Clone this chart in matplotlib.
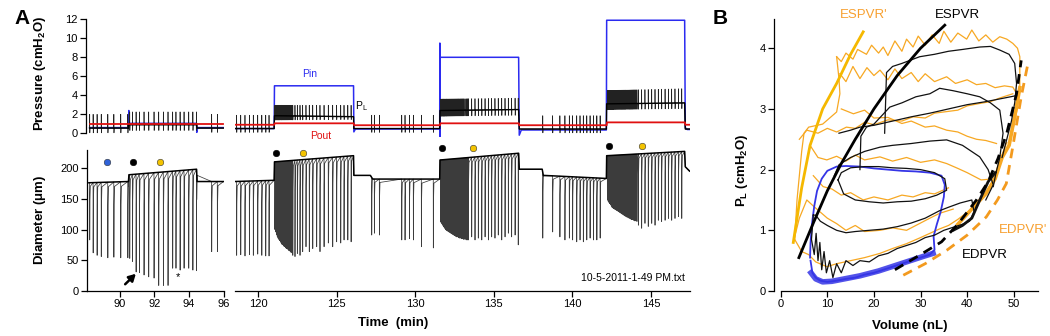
import numpy as np
import matplotlib
matplotlib.use('Agg')
import matplotlib.pyplot as plt

plt.rcParams['font.family'] = ['Liberation Sans', 'DejaVu Sans']
plt.rcParams['mathtext.fontset'] = 'custom'
plt.rcParams['mathtext.rm'] = 'Liberation Sans'
plt.rcParams['mathtext.it'] = 'Liberation Sans:italic'
plt.rcParams['mathtext.bf'] = 'Liberation Sans:bold'

# ---------------- Panel A data ----------------
# diameter baseline knots (time min, diameter um)
DL_base_t = [88.2, 90.49, 90.52, 94.44, 94.47, 96.0]
DL_base_v = [176, 178, 189, 198, 178, 178]
DR_base_t = [118.5, 121.03, 121.05, 126.08, 126.1, 127.15, 127.3, 131.56, 131.58,
             136.58, 136.62, 138.08, 138.15, 142.16, 142.18, 147.14, 147.18, 147.45]
DR_base_v = [178, 180, 210, 220, 188, 188, 182, 182, 213, 224, 198, 198, 188, 183,
             220, 227, 202, 195]

# contraction events, left block
DL_t = [88.24, 88.44, 88.67, 88.91, 89.29, 89.64, 90.04, 90.45,
        90.56, 90.72, 90.93, 91.12, 91.39, 91.66, 91.97, 92.24, 92.51, 92.78,
        93.05, 93.24, 93.48, 93.71, 93.98, 94.22, 94.43,
        95.31, 95.64]
DL_min = [83, 62, 58, 56, 54, 55, 54, 54,
          53, 48, 31, 30, 26, 23, 21, 9, 9, 9,
          37, 37, 34, 37, 37, 34, 33,
          64, 64]

# contraction events, right block
R1_t = [118.64, 118.9, 119.17, 119.45, 119.7, 119.98, 120.24, 120.49, 120.7]
R1_min = [58, 59, 57, 59, 58, 60, 58, 57, 57]
R2_t = [121.07, 121.12, 121.17, 121.22, 121.27, 121.32, 121.37, 121.42, 121.47, 121.52,
        121.58, 121.64, 121.7, 121.76, 121.82, 121.88, 121.95, 122.02, 122.09, 122.16,
        122.21, 122.35, 122.5, 122.67, 122.84, 123.05, 123.26, 123.48, 123.73, 123.94,
        124.2, 124.47, 124.75, 125.0, 125.26, 125.47, 125.71, 125.92]
R2_min = [100, 96, 92, 89, 86, 84, 82, 80, 78, 76, 75, 73, 72, 70, 69, 68, 66, 65, 63, 62,
          58, 56, 61, 58, 64, 72, 64, 69, 72, 64, 72, 78, 72, 80, 78, 83, 83, 80]
R3_t = [127.23, 127.4, 127.72, 129.14, 129.35, 129.63, 129.88, 130.39, 131.15]
R3_min = [91, 94, 91, 83, 83, 85, 83, 72, 70]
R4_t = [131.62, 131.67, 131.72, 131.77, 131.82, 131.87, 131.92, 131.97, 132.02, 132.08,
        132.14, 132.2, 132.26, 132.32, 132.38, 132.44, 132.5, 132.56, 132.62, 132.68,
        132.74, 132.8, 132.87, 132.94, 133.01, 133.08, 133.16, 133.24, 133.31,
        133.38, 133.59, 133.8, 134.01, 134.23, 134.44, 134.65, 134.86, 135.07, 135.28,
        135.5, 135.71, 135.92, 136.13, 136.35, 136.55]
R4_min = [112, 110, 108, 106, 104, 102, 100, 99, 98, 97, 96, 95, 94, 93, 92, 91, 90, 89,
          88, 88, 87, 86, 86, 85, 85, 84, 84, 83, 83,
          83, 88, 83, 86, 83, 88, 83, 88, 86, 91, 83, 88, 94, 88, 91, 75]
R5_t = [138.11, 138.74, 139.2, 139.52, 139.8, 140.01, 140.27, 140.48, 140.69, 140.91,
        141.12, 141.33, 141.55, 141.76]
R5_min = [86, 96, 88, 83, 86, 83, 80, 83, 80, 83, 86, 83, 83, 86]
R6_t = [142.22, 142.27, 142.32, 142.37, 142.42, 142.47, 142.52, 142.57, 142.62, 142.68,
        142.74, 142.8, 142.86, 142.92, 142.98, 143.04, 143.1, 143.16, 143.22, 143.28,
        143.34, 143.4, 143.47, 143.54, 143.61, 143.68, 143.75, 143.82, 143.89, 143.96,
        144.03, 144.1,
        144.19, 144.4, 144.61, 144.82, 145.04, 145.25, 145.46, 145.67, 145.89, 146.1,
        146.31, 146.52, 146.74, 146.95]
R6_min = [148, 146, 144, 142, 140, 138, 136, 135, 134, 133, 132, 131, 130, 129, 128, 127,
          126, 125, 124, 123, 122, 121, 120, 119, 118, 117, 116, 116, 115, 114, 114, 113,
          107, 102, 110, 105, 110, 107, 115, 113, 115, 118, 115, 118, 121, 118]

# pressures (cmH2O): Pin (blue), Pout (red), PL (black)
PinL_t = [88.24, 90.5, 90.51, 90.53, 94.44, 94.45, 94.5, 95.99]
PinL_v = [0.6, 0.6, 2.4, 1.05, 1.05, 0.1, 0.6, 0.6]
PinR_t = [118.47, 121.03, 121.05, 126.08, 126.1, 126.2, 131.56, 131.57, 131.58, 131.59,
          131.62, 136.58, 136.62, 136.75, 142.16, 142.18, 147.14, 147.18, 147.3, 147.48]
PinR_v = [0.5, 0.5, 5.0, 5.0, 0.15, 0.45, 0.45, 9.5, -0.5, 8.0, 8.0, 8.0, -0.2, 0.35,
          0.35, 11.9, 11.9, 0.6, 0.4, 0.4]
PoutL_t = [88.24, 95.99]
PoutL_v = [0.97, 0.97]
PoutR_t = [118.47, 121.04, 121.06, 126.09, 126.11, 131.58, 131.6, 136.6, 136.62,
           142.18, 142.2, 147.16, 147.18, 147.48]
PoutR_v = [0.9, 0.9, 1.05, 1.05, 0.85, 0.85, 1.05, 1.05, 0.85, 0.85, 1.15, 1.15, 0.9, 0.9]

PLL_t = [88.24, 90.5, 90.51, 94.45, 94.46, 95.99]
PLL_base = [0.55, 0.55, 0.9, 0.9, 0.55, 0.55]
PLL_peak = [2.0, 2.0, 2.25, 2.25, 2.0, 2.0]
PLL_trough = [0.05, 0.05, 0.3, 0.3, 0.1, 0.1]
PLR_t = [118.47, 121.03, 121.05, 126.08, 126.1, 131.56, 131.58, 136.58, 136.62, 142.16,
         142.18, 147.14, 147.18, 147.48]
PLR_base = [0.5, 0.5, 1.85, 1.75, 0.5, 0.5, 2.4, 2.5, 0.45, 0.45, 3.1, 3.2, 0.45, 0.45]
PLR_peak = [1.9, 1.9, 2.95, 2.95, 1.9, 1.9, 3.6, 3.7, 1.85, 1.85, 4.5, 4.7, 1.0, 1.0]
PLR_trough = [0.1, 0.1, 1.4, 1.45, 0.1, 0.1, 1.8, 1.9, 0.05, 0.05, 2.5, 2.6, 0.3, 0.3]

# markers above diameter trace (time, diameter, colour)
dot_t = [89.23, 90.74, 92.34, 121.15, 122.86, 131.72, 133.66, 142.35, 144.41]
dot_v = [209, 209, 209, 224, 224, 232, 232, 236, 236]
dot_c = ['#2f62d8', 'black', '#f3c300', 'black', '#f3c300', 'black', '#f3c300',
         'black', '#f3c300']

# ---------------- Panel B data ----------------
ESPVR_V = [3.9, 7, 10, 13, 16, 20, 25, 30, 35.2]
ESPVR_P = [0.55, 1.12, 1.65, 2.1, 2.5, 3.0, 3.55, 4.0, 4.38]
ESPVRp_V = [2.7, 4.5, 6.3, 9, 12, 15, 17.7]
ESPVRp_P = [0.8, 1.7, 2.4, 3.0, 3.42, 3.9, 4.27]
EDPVR_V = [24.5, 30, 34.5, 38, 42, 44.5, 46.6, 48.5, 50.6, 51.6]
EDPVR_P = [0.35, 0.6, 0.81, 1.1, 1.5, 1.8, 2.18, 2.6, 3.25, 3.8]
EDPVRp_V = [26.3, 31, 35.6, 40, 44.1, 46.5, 48.4, 49.8, 51.6, 53.1]
EDPVRp_P = [0.26, 0.45, 0.67, 0.92, 1.22, 1.5, 1.77, 2.38, 3.2, 3.77]

blue_V = [6.4, 6.8, 7.5, 8.5, 10, 12, 14, 16, 18, 20, 22, 24, 26, 28, 30, 32, 33, 32.8,
          33.5, 34.3, 35, 35.2, 34.5, 32, 29, 26, 23, 20, 17, 14, 12, 10, 8.8, 7.8, 7.2,
          6.7, 6.4, 6.3]
blue_P = [0.5, 0.3, 0.22, 0.17, 0.15, 0.17, 0.2, 0.22, 0.27, 0.3, 0.35, 0.4, 0.45, 0.5,
          0.55, 0.6, 0.68, 0.9, 1.1, 1.3, 1.55, 1.75, 1.9, 1.95, 1.97, 1.98, 2.0, 2.02,
          2.05, 2.06, 2.05, 1.98, 1.85, 1.65, 1.4, 1.1, 0.8, 0.55]
blueband_V = [6.5, 7.5, 9, 11, 13, 15, 17, 19, 21, 23, 25, 27, 29, 31, 32.7]
blueband_P = [0.3, 0.2, 0.15, 0.16, 0.19, 0.22, 0.25, 0.29, 0.33, 0.38, 0.43, 0.48,
              0.53, 0.58, 0.62]

K1_V = [7.0, 6.6, 7.2, 7.6, 8.0, 8.4, 8.8, 9.3, 9.8, 10.5, 11.2, 12.0, 13.0, 14.0, 15.5,
        17, 19, 21, 23, 25, 27, 29, 31, 33, 35, 37, 39, 40.5, 41.5, 41.0, 38.5, 36, 34,
        31, 28, 25, 22, 19, 16, 14, 12, 10, 8.5, 7.5, 7.0]
K1_P = [1.25, 0.85, 0.6, 0.95, 0.5, 0.8, 0.35, 0.65, 0.3, 0.5, 0.22, 0.45, 0.3, 0.5,
        0.42, 0.5, 0.48, 0.58, 0.62, 0.7, 0.75, 0.8, 0.88, 0.92, 1.0, 1.05, 1.1, 1.15,
        1.3, 1.5, 1.45, 1.38, 1.32, 1.2, 1.12, 1.06, 1.02, 1.0, 0.98, 0.96, 1.0, 1.08,
        1.15, 1.25, 1.25]
K2_V = [12.3, 13.5, 16, 19, 22, 25, 28, 31, 33.5, 35.6, 35.2, 33, 30, 27, 24, 21, 18,
        15, 13, 12.3]
K2_P = [1.83, 1.6, 1.5, 1.47, 1.45, 1.47, 1.48, 1.52, 1.58, 1.66, 1.85, 1.95, 2.0, 2.02,
        2.03, 2.05, 2.05, 2.03, 1.95, 1.83]
K3_V = [44, 45.6, 44.5, 42.7, 39, 35.6, 32, 28, 24, 21.3, 18, 15, 12.5, 11.5]
K3_P = [1.5, 1.75, 2.0, 2.21, 2.4, 2.49, 2.47, 2.43, 2.4, 2.37, 2.3, 2.2, 2.08, 1.9]
K4_V = [17, 17.2, 18.4, 20, 23.4, 26, 29, 32, 34.1, 37, 40, 42.7, 45, 47, 47.7, 47,
        46.2, 45.6]
K4_P = [2.0, 2.55, 2.7, 2.75, 3.03, 3.1, 3.2, 3.25, 3.34, 3.3, 3.25, 3.2, 3.1, 2.98,
        2.6, 2.2, 1.95, 1.72]
K5_V = [12.5, 15, 17, 20, 24, 28, 32, 36, 40, 44, 48, 50.6]
K5_P = [2.6, 2.65, 2.7, 2.73, 2.8, 2.87, 2.93, 3.0, 3.07, 3.12, 3.18, 3.22]
K6_V = [22.3, 22.7, 24, 26, 29.8, 33, 36, 39, 42.7, 45, 47, 49, 50.2, 50.6, 50.2, 49.5,
        48.5, 47.5]
K6_P = [2.6, 3.6, 3.7, 3.75, 3.86, 3.9, 3.95, 3.98, 4.02, 4.03, 3.97, 3.9, 3.75, 3.42,
        3.1, 2.8, 2.5, 2.2]
Kblob_V = [37, 39, 41, 43, 44.5, 46]
Kblob_P = [1.0, 1.08, 1.2, 1.55, 1.8, 1.95]

O1_V = [3.0, 4.5, 6.0, 7.5, 9.9, 12, 15, 18, 21.3, 24, 27, 30, 32, 34, 36, 38, 40.6,
        43, 45.6, 47, 48.5]
O1_P = [0.85, 0.65, 0.6, 0.48, 0.4, 0.45, 0.5, 0.55, 0.62, 0.7, 0.78, 0.88, 0.95, 1.02,
        1.08, 1.18, 1.33, 1.5, 1.83, 2.15, 2.45]
O2_V = [2.7, 4, 5.6, 7, 8.5, 10, 12, 14, 16, 18, 21.3, 24, 27, 30, 32, 34.1, 37]
O2_P = [0.8, 1.2, 1.5, 1.4, 1.3, 1.2, 1.11, 1.0, 1.08, 0.98, 1.0, 1.04, 1.0, 1.12, 1.2,
        1.28, 1.35]
O3_V = [7, 9.1, 11, 13, 15, 17.7, 20, 23, 26, 28.4, 31, 33, 36]
O3_P = [1.9, 1.72, 1.68, 1.58, 1.62, 1.5, 1.55, 1.5, 1.58, 1.55, 1.62, 1.6, 1.7]
O4_V = [6.3, 8, 9.9, 12, 14, 16, 18, 21.3, 24, 27, 30, 33, 35.6, 38, 40, 43, 46]
O4_P = [2.4, 2.2, 2.16, 2.22, 2.14, 2.24, 2.16, 2.21, 2.14, 2.2, 2.12, 2.16, 2.1, 2.02,
        1.95, 1.83, 1.85]
O5_V = [13, 15.6, 18, 20, 23, 26, 28, 31, 33, 35.6, 38, 40, 42, 44, 46.3]
O5_P = [3.0, 2.92, 2.98, 2.85, 2.86, 2.76, 2.8, 2.7, 2.72, 2.65, 2.62, 2.55, 2.5, 2.48,
        2.43]
O6_V = [4, 5.6, 8, 10, 12, 14.1, 16, 18, 20, 23, 26, 28.4, 31, 33, 35, 38, 40, 42.7, 45,
        47, 49.8]
O6_P = [2.5, 2.65, 2.6, 2.68, 2.62, 2.7, 2.68, 2.78, 2.74, 2.82, 2.8, 2.87, 2.85, 2.93,
        2.95, 2.98, 3.05, 3.09, 3.12, 3.18, 3.25]
O7_V = [12.7, 14, 15.5, 17, 18.5, 20, 21.3, 23, 24.5, 26, 28, 29.5, 31, 33, 35.6, 37.5,
        40, 42, 44, 46, 48, 49.8, 51]
O7_P = [3.58, 3.45, 3.7, 3.5, 3.68, 3.55, 3.64, 3.48, 3.66, 3.5, 3.6, 3.45, 3.58, 3.45,
        3.53, 3.42, 3.48, 3.4, 3.42, 3.35, 3.38, 3.36, 3.2]
O8_V = [12, 13, 14, 15.5, 16.5, 18.4, 19.5, 21, 22, 23, 24.5, 26, 27, 28.4, 29.5, 31,
        32.5, 34, 35, 36.5, 38, 39.9, 41, 42.5, 44, 45.5, 47, 48.5, 49.8, 50.8, 51.3,
        51.3, 50.6, 49.5]
O8_P = [3.86, 3.78, 3.92, 3.82, 3.98, 3.9, 4.05, 3.92, 4.02, 3.88, 4.12, 3.95, 4.15,
        4.02, 4.2, 4.05, 4.22, 4.08, 4.28, 4.1, 4.25, 4.15, 4.3, 4.12, 4.22, 4.1, 4.19,
        4.15, 4.08, 4.0, 3.86, 3.3, 2.95, 2.55]
O9_V = [12, 12.5, 12.7, 12, 9, 6, 5, 4.5, 3.5, 3.0]
O9_P = [3.86, 3.5, 3.25, 2.95, 2.75, 2.7, 2.6, 2.3, 1.5, 0.85]
Oblob_V = [38, 41, 44, 46, 47.5, 49, 50.5, 51.3]
Oblob_P = [1.1, 1.35, 1.6, 1.85, 2.2, 2.4, 3.0, 3.35]

# ---------------- helpers ----------------
W, H = 1050, 336
fig = plt.figure(figsize=(W / 100, H / 100), dpi=100)


def add_ax(x0, x1, y0, y1):
    return fig.add_axes([x0 / W, 1 - y1 / H, (x1 - x0) / W, (y1 - y0) / H])


def dip_trace(kt, kv, et, em):
    pts = list(zip(kt, kv))
    for t, m in zip(et, em):
        b = float(np.interp(t, kt, kv))
        pts += [(t, b), (t + 0.006, m), (t + 0.018, b - 0.3 * (b - m)),
                (t + 0.042, b - 0.06 * (b - m))]
    pts.sort(key=lambda p: p[0])
    a = np.array(pts)
    return a[:, 0], a[:, 1]


def spike_trace(kt, kb, kp, ktr, et):
    pts = list(zip(kt, kb))
    for t in et:
        if t < kt[0] or t > kt[-1]:
            continue
        b = float(np.interp(t, kt, kb))
        p = float(np.interp(t, kt, kp))
        tr = float(np.interp(t, kt, ktr))
        pts += [(t, b), (t + 0.004, p), (t + 0.012, tr), (t + 0.024, b)]
    pts.sort(key=lambda p: p[0])
    a = np.array(pts)
    return a[:, 0], a[:, 1]


def style_ax(ax, left=True, bottom=True):
    for s in ['top', 'right']:
        ax.spines[s].set_visible(False)
    ax.spines['left'].set_visible(left)
    ax.spines['bottom'].set_visible(bottom)
    ax.tick_params(direction='out', length=4, width=0.9, labelsize=8, pad=2,
                   left=left, bottom=bottom, labelleft=left, labelbottom=bottom)
    for s in ['left', 'bottom']:
        ax.spines[s].set_linewidth(0.9)
    ax.patch.set_alpha(0)


# ---------------- Panel A ----------------
LX0, LX1, RX0, RX1 = 87.2, 223.5, 235, 690
L_lim = (88.1, 96.0)
R_lim = (118.54, 147.48)

p_ylim = (-0.35, 12.3)
p_top = 133.3 - 12.3 * 9.5
p_bot = 133.3 + 0.35 * 9.5
axPL = add_ax(LX0, LX1, p_top, p_bot)
axPR = add_ax(RX0, RX1, p_top, p_bot)
d_top, d_bot = 291 - 229 * 0.615, 291
axDL = add_ax(LX0, LX1, d_top, d_bot)
axDR = add_ax(RX0, RX1, d_top, d_bot)

# pressure panels
for ax, pin_t, pin_v, pout_t, pout_v, plt_, plb, plp, pltr, ev, xl in [
        (axPL, PinL_t, PinL_v, PoutL_t, PoutL_v, PLL_t, PLL_base, PLL_peak, PLL_trough,
         DL_t, L_lim),
        (axPR, PinR_t, PinR_v, PoutR_t, PoutR_v, PLR_t, PLR_base, PLR_peak, PLR_trough,
         R1_t + R2_t + R3_t + R4_t + R5_t + R6_t, R_lim)]:
    ax.plot(pin_t, pin_v, color='#2b2bf0', lw=1.1, zorder=2)
    tx, ty = spike_trace(plt_, plb, plp, pltr, ev)
    ax.plot(tx, ty, color='#222222', lw=0.5, zorder=3)
    ax.plot(plt_, plb, color='black', lw=1.0, zorder=3)
    ax.plot(pout_t, pout_v, color='#e01010', lw=1.3, zorder=4)
    ax.set_xlim(*xl)
    ax.set_ylim(*p_ylim)

style_ax(axPL, left=True, bottom=False)
style_ax(axPR, left=False, bottom=False)
axPL.set_yticks([0, 2, 4, 6, 8, 10, 12])
axPL.spines['left'].set_bounds(0, 12)
axPL.spines['left'].set_position(('outward', 1))
axPR.set_yticks([])
axPR.set_xticks([])
axPL.set_xticks([])

axPR.text(123.3, 6.2, 'Pin', color='#2b2bf0', fontsize=7.5, ha='center', va='center')
axPR.text(126.6, 2.9, r'P$_\mathrm{L}$', color='black', fontsize=7.5, ha='center',
          va='center')
axPR.text(124.0, -0.25, 'Pout', color='#e01010', fontsize=7.5, ha='center',
          va='center')

# diameter panels
for ax, kt, kv, et, em, xl in [
        (axDL, DL_base_t, DL_base_v, DL_t, DL_min, L_lim),
        (axDR, DR_base_t, DR_base_v, R1_t + R2_t + R3_t + R4_t + R5_t + R6_t,
         R1_min + R2_min + R3_min + R4_min + R5_min + R6_min, R_lim)]:
    tx, ty = dip_trace(kt, kv, et, em)
    ax.plot(tx, ty, color='#3c3c3c', lw=0.55)
    ax.plot(kt, kv, color='black', lw=1.1)
    ax.set_xlim(*xl)
    ax.set_ylim(0, 229)

for t, v, c in zip(dot_t, dot_v, dot_c):
    ax = axDL if t < 100 else axDR
    ax.scatter([t], [v], s=22, color=c, edgecolor='#333333' if c != 'black' else 'black',
               linewidth=0.4, zorder=5, clip_on=False)

style_ax(axDL, left=True, bottom=True)
style_ax(axDR, left=False, bottom=True)
axDL.set_yticks([0, 50, 100, 150, 200])
axDL.set_xticks([90, 92, 94, 96])
axDR.set_xticks([120, 125, 130, 135, 140, 145])
axDR.set_yticks([])

axDL.annotate('', xy=(90.92, 28), xytext=(90.3, 11),
              arrowprops=dict(arrowstyle='-|>,head_length=0.5,head_width=0.28',
                              color='black', lw=1.8, mutation_scale=8,
                              shrinkA=0, shrinkB=0))
axDL.text(93.34, 22, '*', fontsize=8, ha='center', va='center')
axDR.text(147.15, 21.6, '10-5-2011-1-49 PM.txt', fontsize=7.5, ha='right',
          va='center')

fig.text(40 / W, 1 - 73 / H, r'Pressure (cmH$_\mathbf{2}$O)', rotation=90,
         fontsize=9.5, fontweight='bold', ha='center', va='center')
fig.text(40 / W, 1 - 220 / H, r'Diameter ($\mathbf{\mu}$m)', rotation=90,
         fontsize=9.5, fontweight='bold', ha='center', va='center')
fig.text(393 / W, 1 - 323 / H, 'Time  (min)', fontsize=9.5, fontweight='bold',
         ha='center', va='center')
fig.text(22 / W, 1 - 18 / H, 'A', fontsize=15, fontweight='bold', ha='center',
         va='center')
fig.text(720 / W, 1 - 18 / H, 'B', fontsize=15, fontweight='bold', ha='center',
         va='center')

# ---------------- Panel B ----------------
axB = add_ax(780.7, 1038, 18.5, 291)
axB.set_xlim(0, 55.2)
axB.set_ylim(0, 4.49)
ORANGE = '#f7a823'
for v, p in [(O1_V, O1_P), (O2_V, O2_P), (O3_V, O3_P), (O4_V, O4_P), (O5_V, O5_P),
             (O6_V, O6_P), (O7_V, O7_P), (O8_V, O8_P), (O9_V, O9_P)]:
    axB.plot(v, p, color=ORANGE, lw=0.9, zorder=2)
axB.plot(Oblob_V, Oblob_P, color=ORANGE, lw=2.6, zorder=2)
axB.plot(blueband_V, blueband_P, color='#3535e6', lw=4.0, alpha=0.85, zorder=3)
axB.plot(blue_V, blue_P, color='#3535e6', lw=1.3, zorder=3)
for v, p in [(K1_V, K1_P), (K2_V, K2_P), (K3_V, K3_P), (K4_V, K4_P), (K5_V, K5_P),
             (K6_V, K6_P)]:
    axB.plot(v, p, color='#111111', lw=0.9, zorder=4)
axB.plot(Kblob_V, Kblob_P, color='#111111', lw=2.0, zorder=4)
axB.plot(ESPVRp_V, ESPVRp_P, color='#f5b800', lw=2.0, zorder=5)
axB.plot(ESPVR_V, ESPVR_P, color='black', lw=2.0, zorder=6)
axB.plot(EDPVRp_V, EDPVRp_P, color='#f39a1e', lw=2.0, ls=(0, (3.5, 2.5)), zorder=5)
axB.plot(EDPVR_V, EDPVR_P, color='black', lw=2.0, ls=(0, (3.5, 2.5)), zorder=6)

style_ax(axB)
axB.spines['left'].set_position(('outward', 5))
axB.set_xticks([0, 10, 20, 30, 40, 50])
axB.set_yticks([0, 1, 2, 3, 4])
axB.set_xlabel('Volume (nL)', fontsize=9.5, fontweight='bold', labelpad=8)
fig.text(741.7 / W, 1 - 170 / H, r'P$_\mathbf{L}$ (cmH$_\mathbf{2}$O)', rotation=90,
         fontsize=9.5, fontweight='bold', ha='center', va='center')
fig.text(864 / W, 1 - 15 / H, "ESPVR'", color='#f7a030', fontsize=9.5, ha='center',
         va='center')
fig.text(957 / W, 1 - 15 / H, 'ESPVR', color='black', fontsize=9.5, ha='center',
         va='center')
fig.text(1023 / W, 1 - 230 / H, "EDPVR'", color='#f7a030', fontsize=9.5, ha='center',
         va='center')
fig.text(985 / W, 1 - 255 / H, 'EDPVR', color='black', fontsize=9.5, ha='center',
         va='center')

fig.savefig('out.png', dpi=100)
